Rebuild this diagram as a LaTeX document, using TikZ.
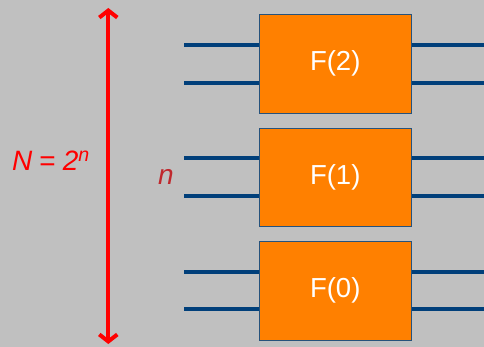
\documentclass[tikz,border=0pt]{standalone}
\usepackage{fontspec}
\setmainfont{Liberation Sans}
\usetikzlibrary{arrows.meta}
\definecolor{bggray}{HTML}{C0C0C0}
\definecolor{boxorange}{HTML}{FF8000}
\definecolor{wireblue}{HTML}{003F7A}
\definecolor{darkred}{HTML}{C0282D}
\begin{document}
\begin{tikzpicture}[x=1pt,y=-1pt,
  fbox/.style={draw=wireblue!70!gray, line width=0.8pt, fill=boxorange,
    minimum width=152pt, minimum height=98.5pt, inner sep=0pt,
    text=white, font=\fontsize{27.5}{32}\selectfont},
  wire/.style={draw=wireblue, line width=4pt},
  span/.style={draw=red, line width=4pt,
    {Straight Barb[length=7pt,width=18pt]}-{Straight Barb[length=7pt,width=18pt]}}]
  \fill[bggray] (0,0) rectangle (484,347);
  \useasboundingbox (0,0) rectangle (484,347);
  % the three stages
  \node[fbox] (f2) at (335.2,63.8) {F(2)};
  \node[fbox] (f1) at (335.2,177.4) {F(1)};
  \node[fbox] (f0) at (335.2,290.7) {F(0)};
  % input and output wires
  \foreach \b/\ya/\yb in {f2/45/82.7, f1/158.3/196, f0/271.7/309.3} {
    \coordinate (\b-ia) at (184,\ya);
    \coordinate (\b-ib) at (184,\yb);
    \coordinate (\b-oa) at (484,\ya);
    \coordinate (\b-ob) at (484,\yb);
    \draw[wire] (\b-ia) -- (\b-ia -| \b.west);
    \draw[wire] (\b-ib) -- (\b-ib -| \b.west);
    \draw[wire] (\b-oa -| \b.east) -- (\b-oa);
    \draw[wire] (\b-ob -| \b.east) -- (\b-ob);
  }
  % total width arrow
  \coordinate (top) at (108.3,8);
  \coordinate (bot) at (108.3,344);
  \draw[span] (top) -- (bot);
  \node[text=red, font=\fontsize{28}{32}\selectfont\itshape, inner sep=0pt] (nn) at (51,161)
    {N\hspace{7pt}{\upshape =}\hspace{7pt}2\textsuperscript{n}};
  \node[text=darkred, font=\fontsize{28}{32}\selectfont\itshape] (nlab) at (166,177) {n};
\end{tikzpicture}
\end{document}
